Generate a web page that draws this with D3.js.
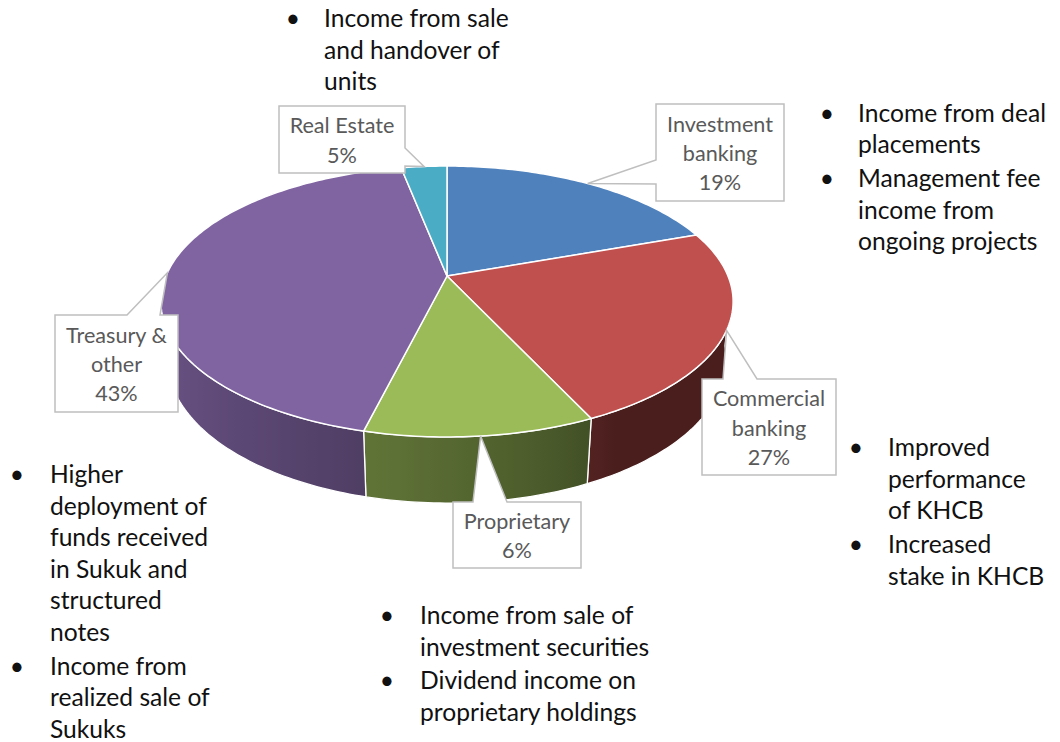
<!DOCTYPE html>
<html><head><meta charset="utf-8">
<script src="https://cdn.jsdelivr.net/npm/d3@7"></script>
<style>body{margin:0;background:#fff} svg{display:block}</style>
</head><body>
<svg id="c" width="1060" height="742"></svg>
<script>
// ---------------- data ----------------
const categories = ["Investment banking","Commercial banking","Proprietary","Treasury & other","Real Estate"];
// slice sizes as drawn in the picture
const sliceShares = [19.6, 23.4, 10.9, 43.0, 3.1];
// percentages printed in the callouts
const shareLabels = ["19%","27%","6%","43%","5%"];
const calloutLines = [["Investment","banking"],["Commercial","banking"],["Proprietary"],["Treasury &","other"],["Real Estate"]];
const sliceColors = ["#4F81BD","#C0504D","#9BBB59","#8064A2","#4BACC6"];

const notesRealEstate = [["Income from sale","and handover of","units"]];
const notesInvestment = [["Income from deal","placements"],["Management fee","income from","ongoing projects"]];
const notesCommercial = [["Improved","performance","of KHCB"],["Increased","stake in KHCB"]];
const notesProprietary = [["Income from sale of","investment securities"],["Dividend income on","proprietary holdings"]];
const notesTreasury = [["Higher","deployment of","funds received","in Sukuk and","structured","notes"],["Income from","realized sale of","Sukuks"]];

// ---------------- layout ----------------
const svg = d3.select("#c");
const FONT = "Lato, 'Open Sans', sans-serif";
const P = {cx:447, cy:276, f:1321.7, R:0.2126, H:0.0504, e:Math.asin(0.465)};
const ce = Math.cos(P.e), se = Math.sin(P.e);
function proj(theta, h){
  const X = P.R*Math.sin(theta), Z = P.R*Math.cos(theta), Y = -h*P.H;
  const v = Y*ce + Z*se, w = 1 + Z*ce - Y*se;
  return [P.cx + P.f*X/w, P.cy - P.f*v/w];
}
const rad = d => d*Math.PI/180;
function shade(theta){
  const deg = theta*180/Math.PI;
  const t = Math.max(0, Math.min(1, (deg-150)/110));
  return 0.38 + 0.48*Math.pow(t, 0.75);
}
function scaled(col, k){ const c = d3.rgb(col); return d3.rgb(c.r*k, c.g*k, c.b*k).formatHex(); }

const arcs = d3.pie().sort(null).value(d=>d)(sliceShares);
const line = d3.line();
const defs = svg.append("defs");

// walls
const gWall = svg.append("g");
const wLo = rad(95), wHi = rad(265);
arcs.forEach((a,i)=>{
  const lo = Math.max(a.startAngle, wLo), hi = Math.min(a.endAngle, wHi);
  if (hi <= lo) return;
  const n = Math.max(8, Math.ceil((hi-lo)/rad(1)));
  const top = d3.range(n+1).map(j=>proj(lo+(hi-lo)*j/n, 0));
  const bot = d3.range(n+1).map(j=>proj(hi-(hi-lo)*j/n, 1));
  const xL = proj(hi,0)[0], xR = proj(lo,0)[0];
  const gid = "wg"+i;
  const grad = defs.append("linearGradient").attr("id",gid).attr("gradientUnits","userSpaceOnUse")
    .attr("x1",xL).attr("y1",0).attr("x2",xR).attr("y2",0);
  d3.range(n+1).forEach(j=>{
    const th = hi-(hi-lo)*j/n;
    const x = proj(th,0)[0];
    grad.append("stop").attr("offset", Math.max(0,Math.min(1,(x-xL)/(xR-xL))))
      .attr("stop-color", scaled(sliceColors[i], shade(th)));
  });
  gWall.append("path").attr("d", line(top.concat(bot))+"Z")
    .attr("fill","url(#"+gid+")").attr("stroke","#fff").attr("stroke-width",1.3).attr("stroke-linejoin","round");
});

// top faces
const gTop = svg.append("g");
arcs.forEach((a,i)=>{
  const n = Math.max(4, Math.ceil((a.endAngle-a.startAngle)/rad(1)));
  const pts = [[P.cx,P.cy]].concat(d3.range(n+1).map(j=>proj(a.startAngle+(a.endAngle-a.startAngle)*j/n,0)));
  gTop.append("path").attr("d", line(pts)+"Z").attr("fill",sliceColors[i])
    .attr("stroke","#fff").attr("stroke-width",1.5).attr("stroke-linejoin","round");
});

// text size helper
function fitSize(str, target, base){
  const t = svg.append("text").attr("font-family",FONT).attr("font-size",base).text(str);
  const w = t.node().getComputedTextLength(); t.remove();
  return base*target/w;
}
const calloutSize = fitSize("Investment", 106, 24);
const noteSize = fitSize("Income from sale", 185, 26);

// callouts
const calloutBoxes = [
  {x:656, y:104, w:128, h:97, side:"left",  b0:160, b1:184},
  {x:702, y:379, w:134, h:96, side:"top",   b0:723, b1:757},
  {x:453, y:502, w:128, h:66, side:"top",   b0:473, b1:507},
  {x:55,  y:315, w:123, h:97, side:"top",   b0:127, b1:160},
  {x:279, y:106, w:126, h:67, side:"right", b0:148, b1:166}
];
const gCall = svg.append("g");
arcs.forEach((a,i)=>{
  const b = calloutBoxes[i];
  const tip = proj((a.startAngle+a.endAngle)/2, 0);
  const p = d3.path();
  p.moveTo(b.x, b.y);
  if (b.side==="top"){ p.lineTo(b.b0,b.y); p.lineTo(tip[0],tip[1]); p.lineTo(b.b1,b.y); }
  p.lineTo(b.x+b.w, b.y);
  if (b.side==="right"){ p.lineTo(b.x+b.w,b.b0); p.lineTo(tip[0],tip[1]); p.lineTo(b.x+b.w,b.b1); }
  p.lineTo(b.x+b.w, b.y+b.h);
  p.lineTo(b.x, b.y+b.h);
  if (b.side==="left"){ p.lineTo(b.x,b.b1); p.lineTo(tip[0],tip[1]); p.lineTo(b.x,b.b0); }
  p.closePath();
  gCall.append("path").attr("d",p.toString()).attr("fill","#fff").attr("stroke","#bfbfbf").attr("stroke-width",1.5);
  const lines = calloutLines[i].concat([shareLabels[i]]);
  const step = 29.3, cy = b.y + b.h/2;
  lines.forEach((s,k)=>{
    gCall.append("text").attr("x", b.x+b.w/2).attr("y", cy + (k-(lines.length-1)/2)*step + 8.5)
      .attr("text-anchor","middle").attr("font-family",FONT).attr("font-size",calloutSize)
      .attr("fill","#595959").text(s);
  });
});

// bullet notes
const noteBlocks = [
  {data:notesRealEstate,  bx:293, tx:324, y:27},
  {data:notesInvestment,  bx:827, tx:858, y:121.5},
  {data:notesCommercial,  bx:856, tx:888, y:456},
  {data:notesProprietary, bx:387, tx:420, y:624},
  {data:notesTreasury,    bx:17,  tx:50,  y:483}
];
const gNotes = svg.append("g").attr("font-family",FONT).attr("font-size",noteSize).attr("fill","#111");
noteBlocks.forEach(blk=>{
  let y = blk.y;
  blk.data.forEach((para,pi)=>{
    if (pi>0) y += 2.2;
    gNotes.append("text").attr("x",blk.bx).attr("y",y).attr("text-anchor","middle").text("\u2022");
    para.forEach(s=>{
      gNotes.append("text").attr("x",blk.tx).attr("y",y).text(s);
      y += 31.6;
    });
  });
});
</script>
</body></html>
